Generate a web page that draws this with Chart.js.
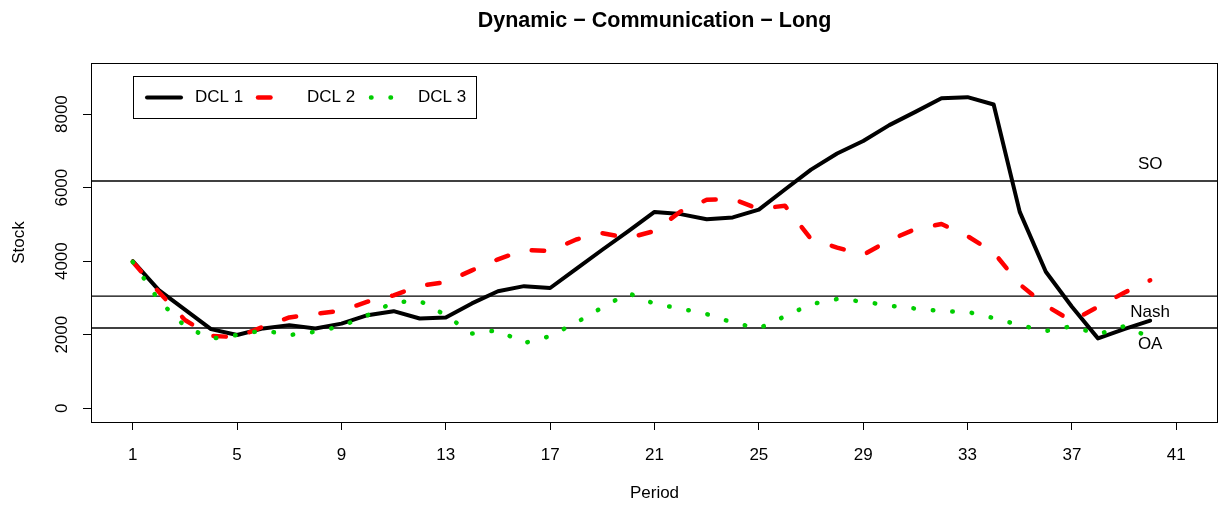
<!DOCTYPE html>
<html>
<head>
<meta charset="utf-8">
<script src="https://cdn.jsdelivr.net/npm/chart.js@4/dist/chart.umd.min.js"></script>
<style>
  html, body { margin: 0; padding: 0; background: #fff; }
  #chart { display: block; }
</style>
</head>
<body>
<canvas id="chart" width="1219" height="506"></canvas>
<script>
// data
const periods = [1, 2, 3, 4, 5, 6, 7, 8, 9, 10, 11, 12, 13, 14, 15, 16, 17, 18, 19, 20,
                 21, 22, 23, 24, 25, 26, 27, 28, 29, 30, 31, 32, 33, 34, 35, 36, 37, 38, 39, 40];
const dcl1 = [4000, 3210, 2680, 2150, 1990, 2170, 2260, 2170, 2300, 2530, 2640, 2440, 2470, 2850, 3180, 3320, 3270, 3790, 4310, 4820,
              5340, 5280, 5140, 5190, 5400, 5950, 6490, 6930, 7270, 7700, 8060, 8430, 8460, 8260, 5340, 3710, 2760, 1900, 2150, 2380];
const dcl2 = [3980, 3160, 2400, 1970, 1930, 2220, 2470, 2570, 2650, 2900, 3070, 3330, 3430, 3750, 4050, 4300, 4280, 4590, 4760, 4630,
              4820, 5350, 5670, 5690, 5420, 5510, 4600, 4370, 4170, 4570, 4870, 5010, 4680, 4240, 3370, 2790, 2370, 2760, 3140, 3480];
const dcl3 = [3980, 2930, 2230, 1890, 1990, 2120, 1990, 2080, 2230, 2530, 2880, 2920, 2530, 2030, 2120, 1770, 1960, 2330, 2740, 3130,
              2840, 2710, 2560, 2330, 2170, 2500, 2830, 2970, 2900, 2790, 2710, 2640, 2620, 2450, 2260, 2100, 2230, 2010, 2230, 1930];
const seriesNames = ['DCL 1', 'DCL 2', 'DCL 3'];
const refNames = ['SO', 'Nash', 'OA'];
const refValues = [6180, 3050, 2180];
const xTicks = [1, 5, 9, 13, 17, 21, 25, 29, 33, 37, 41];
const yTicks = [0, 2000, 4000, 6000, 8000];

const FONT = '"Liberation Sans", Arial, Helvetica, sans-serif';
Chart.defaults.font.family = FONT;
Chart.defaults.font.size = 17;
Chart.defaults.color = '#000';

const pts = vals => periods.map((p, i) => ({ x: p, y: vals[i] }));

// series styles
const styles = [
  { borderColor: '#000000', borderWidth: 4, borderDash: [] },
  { borderColor: '#ff0000', borderWidth: 4.5, borderDash: [12.5, 24.5] },
  { borderColor: '#00cd00', borderWidth: 4.5, borderDash: [0.5, 19] }
];

const xMin = -0.6, xMax = 42.6;

const datasets = [dcl1, dcl2, dcl3].map((vals, i) => ({
  label: seriesNames[i],
  data: pts(vals),
  borderColor: styles[i].borderColor,
  borderWidth: styles[i].borderWidth,
  borderDash: styles[i].borderDash,
  borderCapStyle: 'round',
  borderJoinStyle: 'round',
  pointRadius: 0,
  tension: 0,
  fill: false,
  order: 2 - i
}));

refValues.forEach((v, i) => {
  datasets.push({
    label: refNames[i],
    data: [{ x: xMin, y: v }, { x: xMax, y: v }],
    borderColor: '#000',
    borderWidth: 1.4,
    pointRadius: 0,
    fill: false,
    order: 5
  });
});

//overlay: plot box, legend, reference labels
const overlay = {
  id: 'overlay',
  afterDraw(chart) {
    const { ctx, chartArea: a, scales } = chart;
    ctx.save();
    ctx.strokeStyle = '#000';
    ctx.lineWidth = 1;
    ctx.setLineDash([]);
    ctx.strokeRect(Math.round(a.left) + 0.5, Math.round(a.top) + 0.5,
                   Math.round(a.right - a.left) - 1, Math.round(a.bottom - a.top));

    // reference line labels
    ctx.font = '17px ' + FONT;
    ctx.fillStyle = '#000';
    ctx.textAlign = 'center';
    ctx.textBaseline = 'middle';
    const side = [1, -1, -1];
    refNames.forEach((name, i) => {
      const px = scales.x.getPixelForValue(periods[periods.length - 1]);
      const py = scales.y.getPixelForValue(refValues[i] + side[i] * 450);
      ctx.fillText(name, px, py);
    });

    // legend
    const lx = a.left + 42, ly = a.top + 13;
    ctx.strokeRect(Math.round(lx) + 0.5, Math.round(ly) + 0.5, 343, 42);
    const cy = ly + 21.5;
    const sampleX = [14, 125, 238];
    const textX = [62, 174, 285];
    seriesNames.forEach((name, i) => {
      ctx.beginPath();
      ctx.strokeStyle = styles[i].borderColor;
      ctx.lineWidth = styles[i].borderWidth;
      ctx.lineCap = 'round';
      ctx.setLineDash(styles[i].borderDash);
      ctx.moveTo(lx + sampleX[i], cy);
      ctx.lineTo(lx + sampleX[i] + 34, cy);
      ctx.stroke();
      ctx.setLineDash([]);
      ctx.textAlign = 'left';
      ctx.fillStyle = '#000';
      ctx.fillText(name, lx + textX[i], cy);
    });
    ctx.restore();
  }
};

const chart = new Chart(document.getElementById('chart'), {
  type: 'line',
  data: { datasets: datasets },
  options: {
    responsive: false,
    animation: false,
    devicePixelRatio: 1,
    layout: { padding: { top: 0, right: 1, bottom: 0, left: 0 } },
    plugins: {
      legend: { display: false },
      tooltip: { enabled: false },
      title: {
        display: true,
        fullSize: false,
        text: 'Dynamic \u2212 Communication \u2212 Long',
        font: { size: 21.5, weight: 'bold' },
        color: '#000',
        padding: { top: 8, bottom: 29.2 }
      }
    },
    scales: {
      x: {
        type: 'linear',
        min: xMin,
        max: xMax,
        afterBuildTicks: s => { s.ticks = xTicks.map(v => ({ value: v })); },
        afterFit: s => { s.height = 84; },
        grid: { drawOnChartArea: false, color: '#000', tickLength: 8, tickWidth: 1 },
        border: { display: false },
        ticks: { padding: 15, color: '#000', maxRotation: 0, autoSkip: false, callback: v => String(v) },
        title: { display: true, text: 'Period', color: '#000', padding: { top: 0, bottom: 2 } }
      },
      y: {
        type: 'linear',
        min: -375,
        max: 9390,
        afterBuildTicks: s => { s.ticks = yTicks.map(v => ({ value: v })); },
        afterFit: s => { s.width = 91; },
        grid: { drawOnChartArea: false, color: '#000', tickLength: 8, tickWidth: 1 },
        border: { display: false },
        ticks: { padding: 2, color: '#000', minRotation: 90, maxRotation: 90, crossAlign: 'center', callback: v => String(v) },
        title: { display: true, text: 'Stock', color: '#000', padding: { top: 9, bottom: 0 } }
      }
    }
  },
  plugins: [overlay]
});
</script>
</body>
</html>
